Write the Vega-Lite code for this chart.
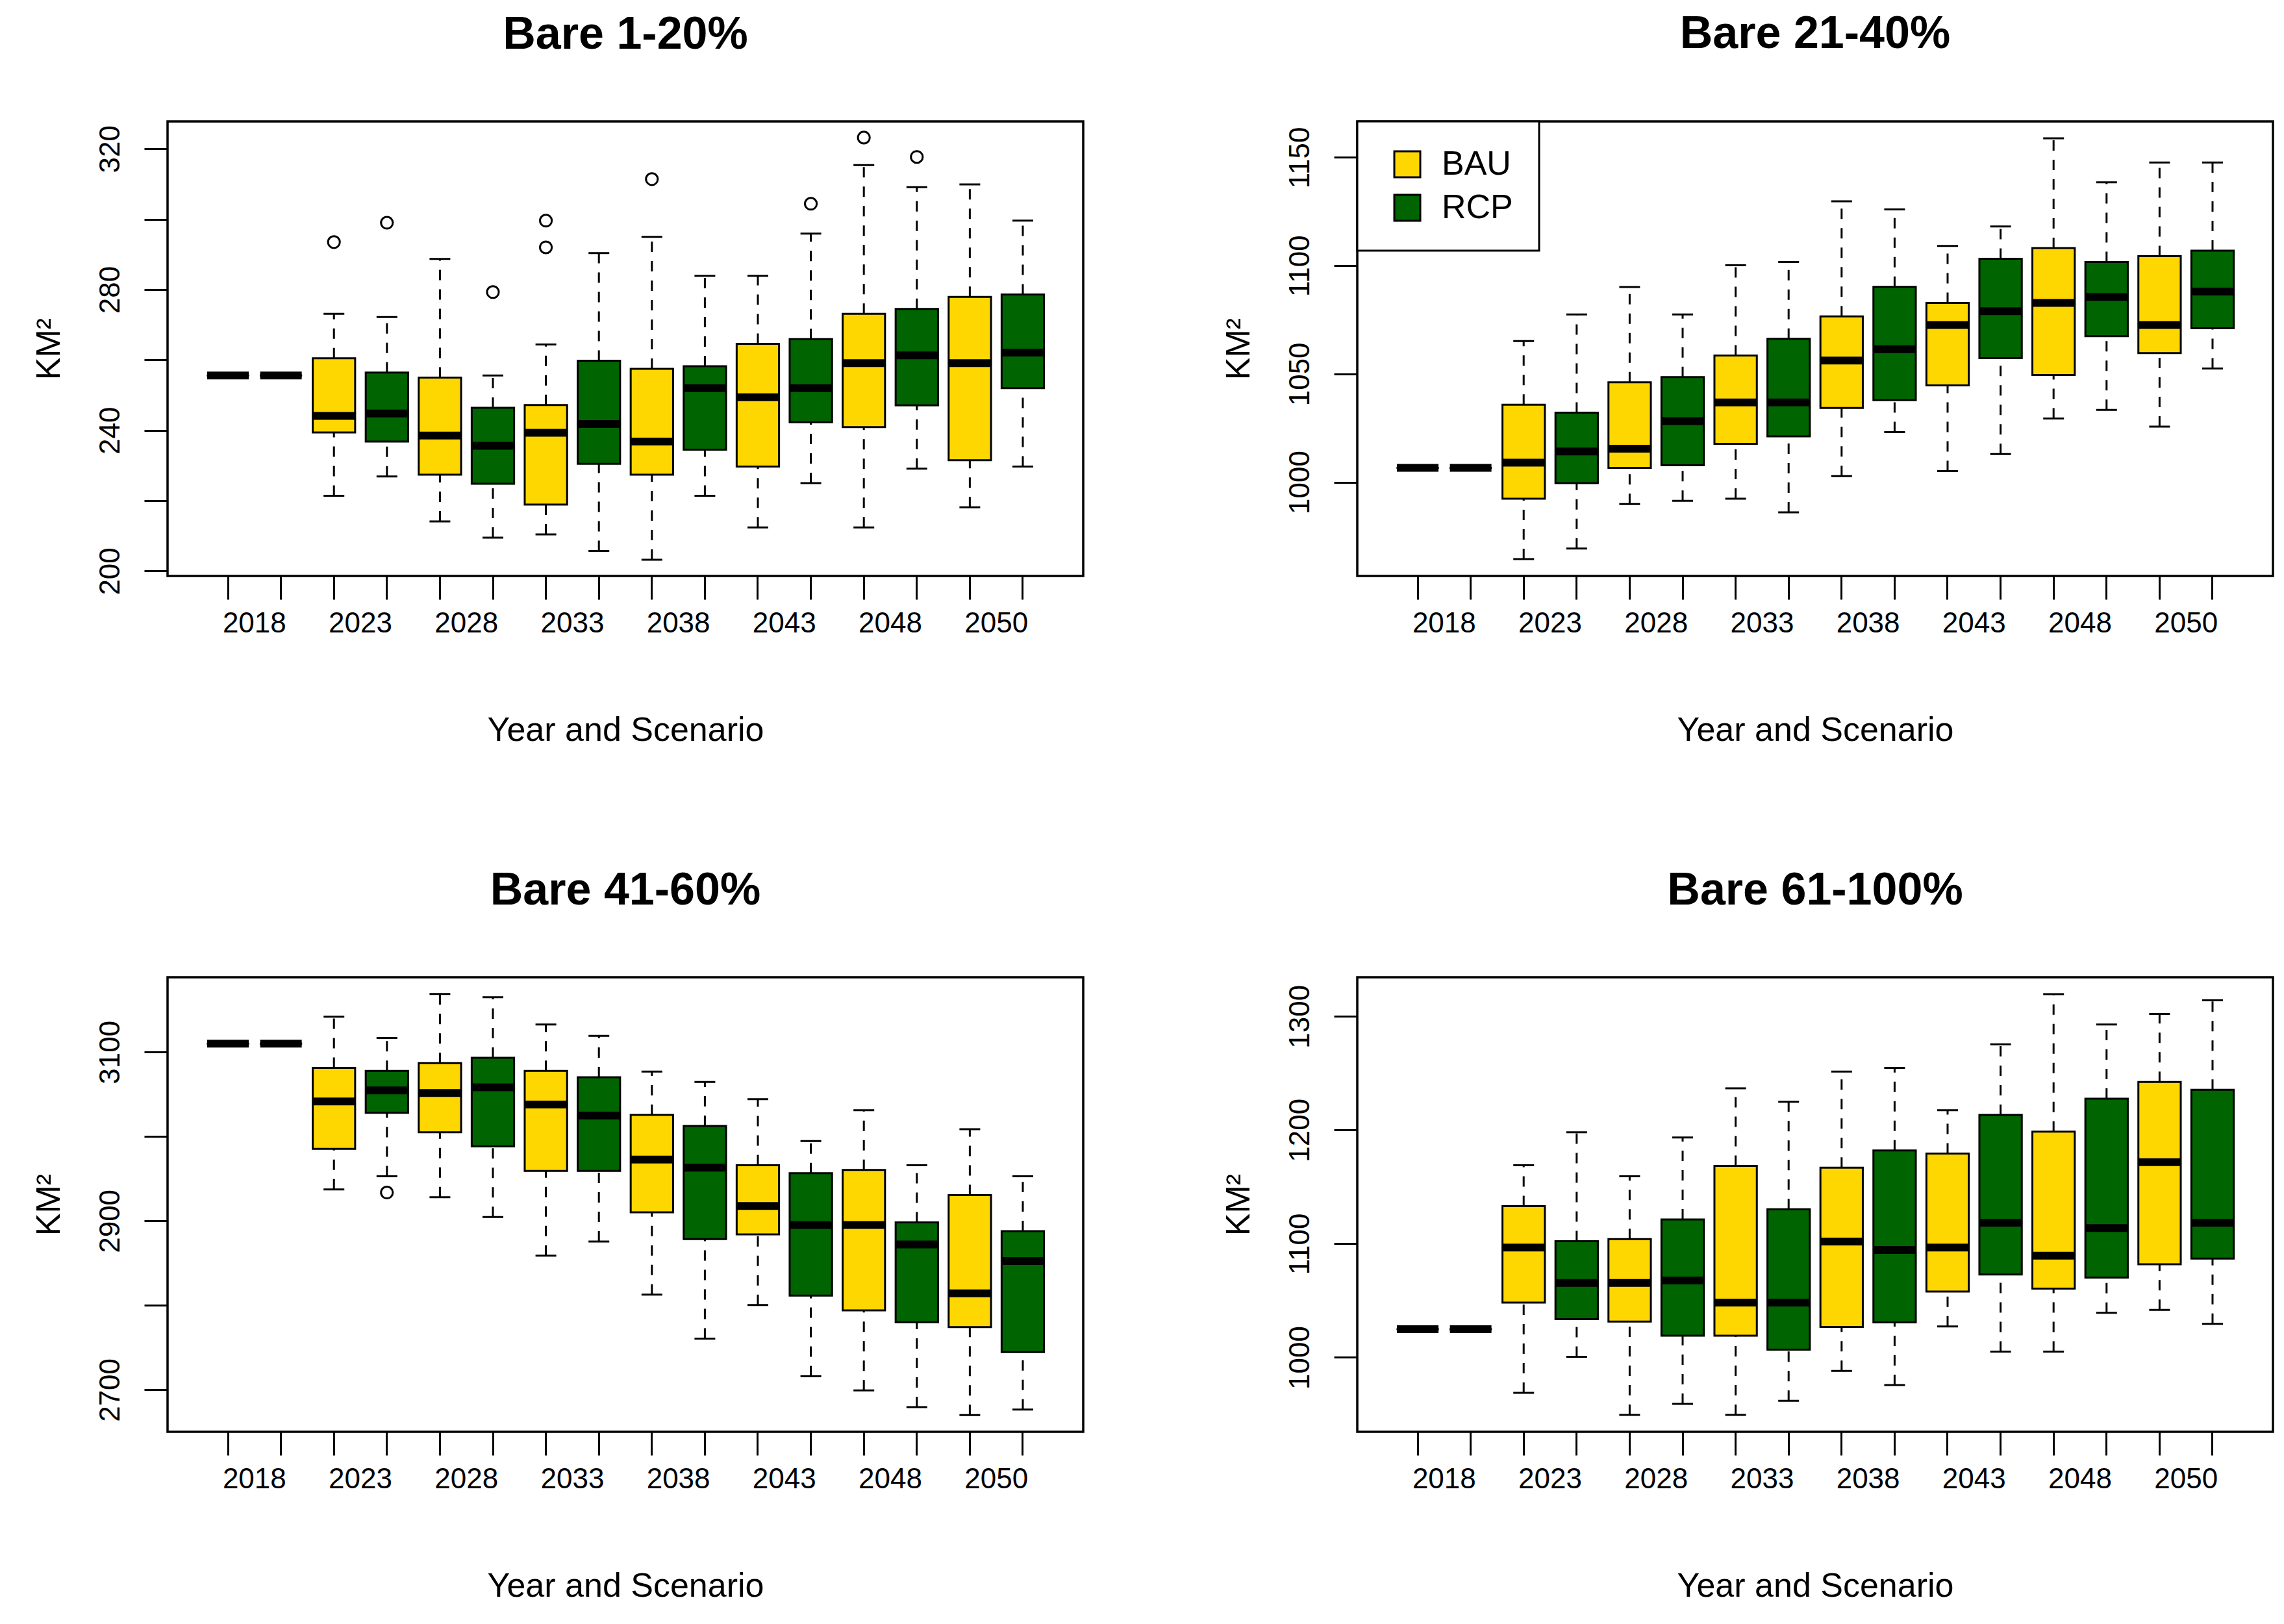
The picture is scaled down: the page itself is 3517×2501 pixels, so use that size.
{
"$schema":"https://vega.github.io/schema/vega-lite/v6.json",
"background":"white",
"padding":{"left":47,"top":15,"right":23,"bottom":29},
"config":{
 "font":"Liberation Sans",
 "view":{"stroke":"black","strokeWidth":3.5},
 "legend":{"strokeWidth":3},
 "title":{"anchor":"middle","frame":"group","fontSize":70,"fontWeight":"bold","font":"Liberation Sans","color":"black","offset":97,"baseline":"bottom"},
 "axis":{"labelFont":"Liberation Sans","labelFontSize":44,"labelColor":"black","titleFont":"Liberation Sans","titleFontSize":52,"titleFontWeight":"normal","titleColor":"black","tickColor":"black","tickWidth":3,"tickSize":36,"domain":false,"grid":false},
 "axisX":{"labelAngle":0,"labelPadding":15,"labelOverlap":false,"labelBaseline":"top","titleY":237,"titleBaseline":"middle"},
 "axisY":{"labelAngle":-90,"labelAlign":"center","labelBaseline":"bottom","labelPadding":30,"labelOverlap":false,"titleX":-183,"titleY":350,"titleAngle":-90,"titleBaseline":"middle","titleAlign":"center"}
},
"datasets":{
 "boxes":[
  {"panel":"Bare 1-20%","box":"2018 BAU","scenario":"BAU","lo":255.6,"q1":255.6,"med":255.6,"q3":255.6,"hi":255.6},
  {"panel":"Bare 1-20%","box":"2018 RCP","scenario":"RCP","lo":255.6,"q1":255.6,"med":255.6,"q3":255.6,"hi":255.6},
  {"panel":"Bare 1-20%","box":"2023 BAU","scenario":"BAU","lo":221.4,"q1":239.4,"med":244.1,"q3":260.5,"hi":273.1},
  {"panel":"Bare 1-20%","box":"2023 RCP","scenario":"RCP","lo":226.9,"q1":236.8,"med":244.8,"q3":256.4,"hi":272.2},
  {"panel":"Bare 1-20%","box":"2028 BAU","scenario":"BAU","lo":214.1,"q1":227.4,"med":238.5,"q3":255.0,"hi":288.7},
  {"panel":"Bare 1-20%","box":"2028 RCP","scenario":"RCP","lo":209.5,"q1":224.8,"med":235.6,"q3":246.4,"hi":255.6},
  {"panel":"Bare 1-20%","box":"2033 BAU","scenario":"BAU","lo":210.4,"q1":218.9,"med":239.3,"q3":247.2,"hi":264.4},
  {"panel":"Bare 1-20%","box":"2033 RCP","scenario":"RCP","lo":205.7,"q1":230.5,"med":241.8,"q3":259.8,"hi":290.4},
  {"panel":"Bare 1-20%","box":"2038 BAU","scenario":"BAU","lo":203.2,"q1":227.4,"med":236.8,"q3":257.5,"hi":295.0},
  {"panel":"Bare 1-20%","box":"2038 RCP","scenario":"RCP","lo":221.4,"q1":234.5,"med":252.0,"q3":258.2,"hi":283.9},
  {"panel":"Bare 1-20%","box":"2043 BAU","scenario":"BAU","lo":212.4,"q1":229.7,"med":249.4,"q3":264.6,"hi":283.9},
  {"panel":"Bare 1-20%","box":"2043 RCP","scenario":"RCP","lo":225.0,"q1":242.3,"med":252.0,"q3":265.9,"hi":295.9},
  {"panel":"Bare 1-20%","box":"2048 BAU","scenario":"BAU","lo":212.4,"q1":240.9,"med":259.1,"q3":273.1,"hi":315.4},
  {"panel":"Bare 1-20%","box":"2048 RCP","scenario":"RCP","lo":229.1,"q1":247.1,"med":261.3,"q3":274.5,"hi":309.1},
  {"panel":"Bare 1-20%","box":"2050 BAU","scenario":"BAU","lo":218.1,"q1":231.5,"med":259.1,"q3":277.9,"hi":309.9},
  {"panel":"Bare 1-20%","box":"2050 RCP","scenario":"RCP","lo":229.7,"q1":252.0,"med":262.1,"q3":278.6,"hi":299.6},
  {"panel":"Bare 21-40%","box":"2018 BAU","scenario":"BAU","lo":1006.6,"q1":1006.6,"med":1006.6,"q3":1006.6,"hi":1006.6},
  {"panel":"Bare 21-40%","box":"2018 RCP","scenario":"RCP","lo":1006.6,"q1":1006.6,"med":1006.6,"q3":1006.6,"hi":1006.6},
  {"panel":"Bare 21-40%","box":"2023 BAU","scenario":"BAU","lo":964.5,"q1":992.4,"med":1009.0,"q3":1035.8,"hi":1065.2},
  {"panel":"Bare 21-40%","box":"2023 RCP","scenario":"RCP","lo":969.4,"q1":999.6,"med":1014.2,"q3":1032.1,"hi":1077.5},
  {"panel":"Bare 21-40%","box":"2028 BAU","scenario":"BAU","lo":989.9,"q1":1006.6,"med":1015.5,"q3":1046.1,"hi":1090.1},
  {"panel":"Bare 21-40%","box":"2028 RCP","scenario":"RCP","lo":991.4,"q1":1007.8,"med":1028.2,"q3":1048.5,"hi":1077.5},
  {"panel":"Bare 21-40%","box":"2033 BAU","scenario":"BAU","lo":992.4,"q1":1017.7,"med":1036.8,"q3":1058.5,"hi":1100.2},
  {"panel":"Bare 21-40%","box":"2033 RCP","scenario":"RCP","lo":986.1,"q1":1021.2,"med":1036.8,"q3":1066.2,"hi":1101.7},
  {"panel":"Bare 21-40%","box":"2038 BAU","scenario":"BAU","lo":1002.8,"q1":1034.3,"med":1056.2,"q3":1076.6,"hi":1129.7},
  {"panel":"Bare 21-40%","box":"2038 RCP","scenario":"RCP","lo":1023.1,"q1":1037.9,"med":1061.4,"q3":1090.2,"hi":1126.0},
  {"panel":"Bare 21-40%","box":"2043 BAU","scenario":"BAU","lo":1005.1,"q1":1044.7,"med":1072.6,"q3":1082.8,"hi":1109.1},
  {"panel":"Bare 21-40%","box":"2043 RCP","scenario":"RCP","lo":1013.0,"q1":1057.3,"med":1079.0,"q3":1103.2,"hi":1118.1},
  {"panel":"Bare 21-40%","box":"2048 BAU","scenario":"BAU","lo":1029.4,"q1":1049.5,"med":1082.8,"q3":1108.1,"hi":1158.8},
  {"panel":"Bare 21-40%","box":"2048 RCP","scenario":"RCP","lo":1033.4,"q1":1067.4,"med":1085.6,"q3":1101.7,"hi":1138.5},
  {"panel":"Bare 21-40%","box":"2050 BAU","scenario":"BAU","lo":1025.7,"q1":1059.6,"med":1072.6,"q3":1104.4,"hi":1147.6},
  {"panel":"Bare 21-40%","box":"2050 RCP","scenario":"RCP","lo":1052.5,"q1":1071.1,"med":1088.0,"q3":1106.9,"hi":1147.6},
  {"panel":"Bare 41-60%","box":"2018 BAU","scenario":"BAU","lo":3110.0,"q1":3110.0,"med":3110.0,"q3":3110.0,"hi":3110.0},
  {"panel":"Bare 41-60%","box":"2018 RCP","scenario":"RCP","lo":3110.0,"q1":3110.0,"med":3110.0,"q3":3110.0,"hi":3110.0},
  {"panel":"Bare 41-60%","box":"2023 BAU","scenario":"BAU","lo":2937.4,"q1":2985.4,"med":3041.6,"q3":3081.4,"hi":3142.0},
  {"panel":"Bare 41-60%","box":"2023 RCP","scenario":"RCP","lo":2953.0,"q1":3028.2,"med":3054.6,"q3":3077.7,"hi":3116.7},
  {"panel":"Bare 41-60%","box":"2028 BAU","scenario":"BAU","lo":2928.1,"q1":3005.1,"med":3051.6,"q3":3087.0,"hi":3168.8},
  {"panel":"Bare 41-60%","box":"2028 RCP","scenario":"RCP","lo":2904.7,"q1":2988.4,"med":3058.3,"q3":3093.3,"hi":3165.1},
  {"panel":"Bare 41-60%","box":"2033 BAU","scenario":"BAU","lo":2858.9,"q1":2959.3,"med":3037.9,"q3":3077.7,"hi":3132.7},
  {"panel":"Bare 41-60%","box":"2033 RCP","scenario":"RCP","lo":2875.6,"q1":2959.3,"med":3024.8,"q3":3070.2,"hi":3119.3},
  {"panel":"Bare 41-60%","box":"2038 BAU","scenario":"BAU","lo":2812.7,"q1":2910.2,"med":2972.7,"q3":3025.6,"hi":3076.9},
  {"panel":"Bare 41-60%","box":"2038 RCP","scenario":"RCP","lo":2760.7,"q1":2878.6,"med":2963.1,"q3":3012.6,"hi":3064.7},
  {"panel":"Bare 41-60%","box":"2043 BAU","scenario":"BAU","lo":2800.5,"q1":2884.2,"med":2917.7,"q3":2966.0,"hi":3044.2},
  {"panel":"Bare 41-60%","box":"2043 RCP","scenario":"RCP","lo":2716.0,"q1":2811.6,"med":2895.3,"q3":2956.7,"hi":2994.7},
  {"panel":"Bare 41-60%","box":"2048 BAU","scenario":"BAU","lo":2699.3,"q1":2794.1,"med":2895.3,"q3":2960.4,"hi":3031.2},
  {"panel":"Bare 41-60%","box":"2048 RCP","scenario":"RCP","lo":2679.5,"q1":2780.0,"med":2872.2,"q3":2898.3,"hi":2966.0},
  {"panel":"Bare 41-60%","box":"2050 BAU","scenario":"BAU","lo":2670.2,"q1":2774.4,"med":2814.3,"q3":2930.7,"hi":3008.8},
  {"panel":"Bare 41-60%","box":"2050 RCP","scenario":"RCP","lo":2676.6,"q1":2744.7,"med":2852.5,"q3":2887.9,"hi":2953.0},
  {"panel":"Bare 61-100%","box":"2018 BAU","scenario":"BAU","lo":1024.9,"q1":1024.9,"med":1024.9,"q3":1024.9,"hi":1024.9},
  {"panel":"Bare 61-100%","box":"2018 RCP","scenario":"RCP","lo":1024.9,"q1":1024.9,"med":1024.9,"q3":1024.9,"hi":1024.9},
  {"panel":"Bare 61-100%","box":"2023 BAU","scenario":"BAU","lo":968.8,"q1":1048.3,"med":1096.7,"q3":1133.1,"hi":1169.1},
  {"panel":"Bare 61-100%","box":"2023 RCP","scenario":"RCP","lo":1000.6,"q1":1033.7,"med":1065.5,"q3":1102.2,"hi":1198.1},
  {"panel":"Bare 61-100%","box":"2028 BAU","scenario":"BAU","lo":949.4,"q1":1031.5,"med":1065.5,"q3":1104.1,"hi":1159.4},
  {"panel":"Bare 61-100%","box":"2028 RCP","scenario":"RCP","lo":959.1,"q1":1019.1,"med":1067.7,"q3":1121.3,"hi":1193.4},
  {"panel":"Bare 61-100%","box":"2033 BAU","scenario":"BAU","lo":949.4,"q1":1019.1,"med":1048.3,"q3":1168.5,"hi":1236.7},
  {"panel":"Bare 61-100%","box":"2033 RCP","scenario":"RCP","lo":961.9,"q1":1006.9,"med":1048.3,"q3":1130.4,"hi":1224.9},
  {"panel":"Bare 61-100%","box":"2038 BAU","scenario":"BAU","lo":988.1,"q1":1026.8,"med":1101.9,"q3":1166.9,"hi":1251.4},
  {"panel":"Bare 61-100%","box":"2038 RCP","scenario":"RCP","lo":975.7,"q1":1030.9,"med":1094.5,"q3":1182.0,"hi":1254.7},
  {"panel":"Bare 61-100%","box":"2043 BAU","scenario":"BAU","lo":1027.3,"q1":1058.0,"med":1096.7,"q3":1179.3,"hi":1217.4},
  {"panel":"Bare 61-100%","box":"2043 RCP","scenario":"RCP","lo":1005.2,"q1":1072.9,"med":1118.5,"q3":1213.3,"hi":1275.4},
  {"panel":"Bare 61-100%","box":"2048 BAU","scenario":"BAU","lo":1005.2,"q1":1060.5,"med":1089.5,"q3":1198.6,"hi":1319.6},
  {"panel":"Bare 61-100%","box":"2048 RCP","scenario":"RCP","lo":1039.2,"q1":1070.2,"med":1113.8,"q3":1227.6,"hi":1292.8},
  {"panel":"Bare 61-100%","box":"2050 BAU","scenario":"BAU","lo":1041.9,"q1":1082.0,"med":1171.8,"q3":1242.3,"hi":1302.2},
  {"panel":"Bare 61-100%","box":"2050 RCP","scenario":"RCP","lo":1029.6,"q1":1087.0,"med":1118.5,"q3":1235.4,"hi":1314.1}
 ],
 "outliers":[
  {"panel":"Bare 1-20%","box":"2023 BAU","value":293.5},
  {"panel":"Bare 1-20%","box":"2023 RCP","value":299.0},
  {"panel":"Bare 1-20%","box":"2028 RCP","value":279.3},
  {"panel":"Bare 1-20%","box":"2033 BAU","value":299.6},
  {"panel":"Bare 1-20%","box":"2033 BAU","value":292.0},
  {"panel":"Bare 1-20%","box":"2038 BAU","value":311.4},
  {"panel":"Bare 1-20%","box":"2043 RCP","value":304.4},
  {"panel":"Bare 1-20%","box":"2048 BAU","value":323.2},
  {"panel":"Bare 1-20%","box":"2048 RCP","value":317.7},
  {"panel":"Bare 41-60%","box":"2023 RCP","value":2933.7}
 ]
},
"columns":2,
"spacing":{"row":183,"column":209},
"resolve":{"scale":{"x":"independent","y":"independent","fill":"independent"},"axis":{"x":"independent","y":"independent"},"legend":{"fill":"independent"}},
"concat":[
 {
  "title":{"text":"Bare 1-20%"},
  "width":1410,"height":700,
  "data":{"name":"boxes"},
  "transform":[{"filter":"datum.panel == 'Bare 1-20%'"}],
  "encoding":{"x":{"field":"box","type":"nominal","scale":{"type":"band","domain":["2018 BAU","2018 RCP","2023 BAU","2023 RCP","2028 BAU","2028 RCP","2033 BAU","2033 RCP","2038 BAU","2038 RCP","2043 BAU","2043 RCP","2048 BAU","2048 RCP","2050 BAU","2050 RCP"],"paddingInner":0,"paddingOuter":0.64},"axis":{"title":"Year and Scenario","labelOffset":40.8,"labelExpr":"datum.value == '2018 BAU' ? '2018' : datum.value == '2023 BAU' ? '2023' : datum.value == '2028 BAU' ? '2028' : datum.value == '2033 BAU' ? '2033' : datum.value == '2038 BAU' ? '2038' : datum.value == '2043 BAU' ? '2043' : datum.value == '2048 BAU' ? '2048' : datum.value == '2050 BAU' ? '2050' : ''"}}},
  "layer":[
   {"mark":{"type":"rule","color":"black","strokeWidth":3,"strokeDash":[16,14]},
    "encoding":{"y":{"field":"lo","type":"quantitative","title":"KM²","scale":{"domain":[198.6,327.8],"nice":false,"zero":false},"axis":{"values":[200,220,240,260,280,300,320],"format":"d","labelExpr":"datum.value % 40 == 0 ? datum.label : ''"}},"y2":{"field":"q1"}}},
   {"mark":{"type":"rule","color":"black","strokeWidth":3,"strokeDash":[16,14]},
    "encoding":{"y":{"field":"q3","type":"quantitative","title":"KM²","scale":{"domain":[198.6,327.8],"nice":false,"zero":false}},"y2":{"field":"hi"}}},
   {"mark":{"type":"tick","color":"black","size":32,"thickness":3,"opacity":1},
    "encoding":{"y":{"field":"lo","type":"quantitative","title":"KM²","scale":{"domain":[198.6,327.8],"nice":false,"zero":false}}}},
   {"mark":{"type":"tick","color":"black","size":32,"thickness":3,"opacity":1},
    "encoding":{"y":{"field":"hi","type":"quantitative","title":"KM²","scale":{"domain":[198.6,327.8],"nice":false,"zero":false}}}},
   {"mark":{"type":"bar","stroke":"black","strokeWidth":3,"opacity":1,"width":{"band":0.8}},
    "encoding":{"y":{"field":"q1","type":"quantitative","title":"KM²","scale":{"domain":[198.6,327.8],"nice":false,"zero":false}},"y2":{"field":"q3"},
     "fill":{"field":"scenario","type":"nominal","scale":{"domain":["BAU","RCP"],"range":["#FFD700","#006400"]},"legend":null}}},
   {"mark":{"type":"tick","color":"black","size":64,"thickness":12,"opacity":1},
    "encoding":{"y":{"field":"med","type":"quantitative","title":"KM²","scale":{"domain":[198.6,327.8],"nice":false,"zero":false}}}},
   {"data":{"name":"outliers"},"transform":[{"filter":"datum.panel == 'Bare 1-20%'"}],
    "mark":{"type":"point","filled":false,"color":"black","strokeWidth":3,"size":330,"opacity":1},
    "encoding":{"y":{"field":"value","type":"quantitative","title":"KM²","scale":{"domain":[198.6,327.8],"nice":false,"zero":false}}}}
  ]
 },
 {
  "title":{"text":"Bare 21-40%"},
  "width":1410,"height":700,
  "data":{"name":"boxes"},
  "transform":[{"filter":"datum.panel == 'Bare 21-40%'"}],
  "encoding":{"x":{"field":"box","type":"nominal","scale":{"type":"band","domain":["2018 BAU","2018 RCP","2023 BAU","2023 RCP","2028 BAU","2028 RCP","2033 BAU","2033 RCP","2038 BAU","2038 RCP","2043 BAU","2043 RCP","2048 BAU","2048 RCP","2050 BAU","2050 RCP"],"paddingInner":0,"paddingOuter":0.64},"axis":{"title":"Year and Scenario","labelOffset":40.8,"labelExpr":"datum.value == '2018 BAU' ? '2018' : datum.value == '2023 BAU' ? '2023' : datum.value == '2028 BAU' ? '2028' : datum.value == '2033 BAU' ? '2033' : datum.value == '2038 BAU' ? '2038' : datum.value == '2043 BAU' ? '2043' : datum.value == '2048 BAU' ? '2048' : datum.value == '2050 BAU' ? '2050' : ''"}}},
  "layer":[
   {"mark":{"type":"rule","color":"black","strokeWidth":3,"strokeDash":[16,14]},
    "encoding":{"y":{"field":"lo","type":"quantitative","title":"KM²","scale":{"domain":[956.7,1166.6],"nice":false,"zero":false},"axis":{"values":[1000,1050,1100,1150],"format":"d"}},"y2":{"field":"q1"}}},
   {"mark":{"type":"rule","color":"black","strokeWidth":3,"strokeDash":[16,14]},
    "encoding":{"y":{"field":"q3","type":"quantitative","title":"KM²","scale":{"domain":[956.7,1166.6],"nice":false,"zero":false}},"y2":{"field":"hi"}}},
   {"mark":{"type":"tick","color":"black","size":32,"thickness":3,"opacity":1},
    "encoding":{"y":{"field":"lo","type":"quantitative","title":"KM²","scale":{"domain":[956.7,1166.6],"nice":false,"zero":false}}}},
   {"mark":{"type":"tick","color":"black","size":32,"thickness":3,"opacity":1},
    "encoding":{"y":{"field":"hi","type":"quantitative","title":"KM²","scale":{"domain":[956.7,1166.6],"nice":false,"zero":false}}}},
   {"mark":{"type":"bar","stroke":"black","strokeWidth":3,"opacity":1,"width":{"band":0.8}},
    "encoding":{"y":{"field":"q1","type":"quantitative","title":"KM²","scale":{"domain":[956.7,1166.6],"nice":false,"zero":false}},"y2":{"field":"q3"},
     "fill":{"field":"scenario","type":"nominal","scale":{"domain":["BAU","RCP"],"range":["#FFD700","#006400"]},
      "legend":{"orient":"top-left","offset":0,"title":null,"padding":40,"symbolOffset":11,"fillColor":"white","strokeColor":"black","symbolType":"square","symbolSize":1600,"symbolStrokeColor":"black","symbolStrokeWidth":3,"symbolOpacity":1,"labelFont":"Liberation Sans","labelFontSize":52,"labelColor":"black","labelOffset":27,"rowPadding":15}}}},
   {"mark":{"type":"tick","color":"black","size":64,"thickness":12,"opacity":1},
    "encoding":{"y":{"field":"med","type":"quantitative","title":"KM²","scale":{"domain":[956.7,1166.6],"nice":false,"zero":false}}}}
  ]
 },
 {
  "title":{"text":"Bare 41-60%"},
  "width":1410,"height":700,
  "data":{"name":"boxes"},
  "transform":[{"filter":"datum.panel == 'Bare 41-60%'"}],
  "encoding":{"x":{"field":"box","type":"nominal","scale":{"type":"band","domain":["2018 BAU","2018 RCP","2023 BAU","2023 RCP","2028 BAU","2028 RCP","2033 BAU","2033 RCP","2038 BAU","2038 RCP","2043 BAU","2043 RCP","2048 BAU","2048 RCP","2050 BAU","2050 RCP"],"paddingInner":0,"paddingOuter":0.64},"axis":{"title":"Year and Scenario","labelOffset":40.8,"labelExpr":"datum.value == '2018 BAU' ? '2018' : datum.value == '2023 BAU' ? '2023' : datum.value == '2028 BAU' ? '2028' : datum.value == '2033 BAU' ? '2033' : datum.value == '2038 BAU' ? '2038' : datum.value == '2043 BAU' ? '2043' : datum.value == '2048 BAU' ? '2048' : datum.value == '2050 BAU' ? '2050' : ''"}}},
  "layer":[
   {"mark":{"type":"rule","color":"black","strokeWidth":3,"strokeDash":[16,14]},
    "encoding":{"y":{"field":"lo","type":"quantitative","title":"KM²","scale":{"domain":[2650.3,3188.7],"nice":false,"zero":false},"axis":{"values":[2700,2800,2900,3000,3100],"format":"d","labelExpr":"datum.value % 200 == 100 ? datum.label : ''"}},"y2":{"field":"q1"}}},
   {"mark":{"type":"rule","color":"black","strokeWidth":3,"strokeDash":[16,14]},
    "encoding":{"y":{"field":"q3","type":"quantitative","title":"KM²","scale":{"domain":[2650.3,3188.7],"nice":false,"zero":false}},"y2":{"field":"hi"}}},
   {"mark":{"type":"tick","color":"black","size":32,"thickness":3,"opacity":1},
    "encoding":{"y":{"field":"lo","type":"quantitative","title":"KM²","scale":{"domain":[2650.3,3188.7],"nice":false,"zero":false}}}},
   {"mark":{"type":"tick","color":"black","size":32,"thickness":3,"opacity":1},
    "encoding":{"y":{"field":"hi","type":"quantitative","title":"KM²","scale":{"domain":[2650.3,3188.7],"nice":false,"zero":false}}}},
   {"mark":{"type":"bar","stroke":"black","strokeWidth":3,"opacity":1,"width":{"band":0.8}},
    "encoding":{"y":{"field":"q1","type":"quantitative","title":"KM²","scale":{"domain":[2650.3,3188.7],"nice":false,"zero":false}},"y2":{"field":"q3"},
     "fill":{"field":"scenario","type":"nominal","scale":{"domain":["BAU","RCP"],"range":["#FFD700","#006400"]},"legend":null}}},
   {"mark":{"type":"tick","color":"black","size":64,"thickness":12,"opacity":1},
    "encoding":{"y":{"field":"med","type":"quantitative","title":"KM²","scale":{"domain":[2650.3,3188.7],"nice":false,"zero":false}}}},
   {"data":{"name":"outliers"},"transform":[{"filter":"datum.panel == 'Bare 41-60%'"}],
    "mark":{"type":"point","filled":false,"color":"black","strokeWidth":3,"size":330,"opacity":1},
    "encoding":{"y":{"field":"value","type":"quantitative","title":"KM²","scale":{"domain":[2650.3,3188.7],"nice":false,"zero":false}}}}
  ]
 },
 {
  "title":{"text":"Bare 61-100%"},
  "width":1410,"height":700,
  "data":{"name":"boxes"},
  "transform":[{"filter":"datum.panel == 'Bare 61-100%'"}],
  "encoding":{"x":{"field":"box","type":"nominal","scale":{"type":"band","domain":["2018 BAU","2018 RCP","2023 BAU","2023 RCP","2028 BAU","2028 RCP","2033 BAU","2033 RCP","2038 BAU","2038 RCP","2043 BAU","2043 RCP","2048 BAU","2048 RCP","2050 BAU","2050 RCP"],"paddingInner":0,"paddingOuter":0.64},"axis":{"title":"Year and Scenario","labelOffset":40.8,"labelExpr":"datum.value == '2018 BAU' ? '2018' : datum.value == '2023 BAU' ? '2023' : datum.value == '2028 BAU' ? '2028' : datum.value == '2033 BAU' ? '2033' : datum.value == '2038 BAU' ? '2038' : datum.value == '2043 BAU' ? '2043' : datum.value == '2048 BAU' ? '2048' : datum.value == '2050 BAU' ? '2050' : ''"}}},
  "layer":[
   {"mark":{"type":"rule","color":"black","strokeWidth":3,"strokeDash":[16,14]},
    "encoding":{"y":{"field":"lo","type":"quantitative","title":"KM²","scale":{"domain":[934.6,1334.4],"nice":false,"zero":false},"axis":{"values":[1000,1100,1200,1300],"format":"d"}},"y2":{"field":"q1"}}},
   {"mark":{"type":"rule","color":"black","strokeWidth":3,"strokeDash":[16,14]},
    "encoding":{"y":{"field":"q3","type":"quantitative","title":"KM²","scale":{"domain":[934.6,1334.4],"nice":false,"zero":false}},"y2":{"field":"hi"}}},
   {"mark":{"type":"tick","color":"black","size":32,"thickness":3,"opacity":1},
    "encoding":{"y":{"field":"lo","type":"quantitative","title":"KM²","scale":{"domain":[934.6,1334.4],"nice":false,"zero":false}}}},
   {"mark":{"type":"tick","color":"black","size":32,"thickness":3,"opacity":1},
    "encoding":{"y":{"field":"hi","type":"quantitative","title":"KM²","scale":{"domain":[934.6,1334.4],"nice":false,"zero":false}}}},
   {"mark":{"type":"bar","stroke":"black","strokeWidth":3,"opacity":1,"width":{"band":0.8}},
    "encoding":{"y":{"field":"q1","type":"quantitative","title":"KM²","scale":{"domain":[934.6,1334.4],"nice":false,"zero":false}},"y2":{"field":"q3"},
     "fill":{"field":"scenario","type":"nominal","scale":{"domain":["BAU","RCP"],"range":["#FFD700","#006400"]},"legend":null}}},
   {"mark":{"type":"tick","color":"black","size":64,"thickness":12,"opacity":1},
    "encoding":{"y":{"field":"med","type":"quantitative","title":"KM²","scale":{"domain":[934.6,1334.4],"nice":false,"zero":false}}}}
  ]
 }
]
}
